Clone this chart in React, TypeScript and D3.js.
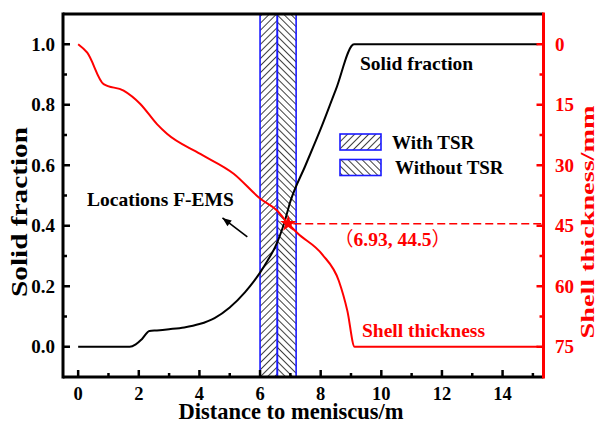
import React from 'react';
import * as d3 from 'd3';

// solid fraction vs distance (left axis)
const SF_X = [0, 1.7, 1.9, 2.1, 2.35, 2.6, 3.0, 3.5, 4.0, 4.5, 5.0, 5.5, 5.8, 6.0, 6.25, 6.5, 6.8, 7.0, 7.5, 8.0, 8.5, 9.1, 15.15];
const SF_Y = [0, 0, 0.008, 0.025, 0.052, 0.054, 0.058, 0.064, 0.075, 0.095, 0.13, 0.18, 0.217, 0.245, 0.285, 0.33, 0.41, 0.48, 0.6, 0.72, 0.85, 1.0, 1.0];

// shell thickness (mm) vs distance (right axis)
const SH_X = [0, 0.3, 0.84, 1.5, 2.05, 2.6, 2.93, 4.03, 5.13, 6.01, 6.56, 6.93, 7.23, 8.05, 8.6, 8.88, 9.12, 15.15];
const SH_Y = [0, 2.1, 9.9, 11.5, 14.8, 19.8, 22.2, 27.2, 32.1, 38.3, 41.2, 44.5, 46.8, 52.1, 58.7, 66.1, 75, 75];

// F-EMS location bands
const BAND_NAMES = ['With TSR', 'Without TSR'];
const BAND_START = [6.0, 6.57];
const BAND_END = [6.57, 7.19];

const MARK_X = 6.93;
const MARK_Y = 44.5;

const X_TICKS = [0, 2, 4, 6, 8, 10, 12, 14];
const X_MINOR = [1, 3, 5, 7, 9, 11, 13, 15];
const L_TICKS = [0, 0.2, 0.4, 0.6, 0.8, 1.0];
const L_MINOR = [0.1, 0.3, 0.5, 0.7, 0.9];
const R_TICKS = [0, 15, 30, 45, 60, 75];
const R_MINOR = [7.5, 22.5, 37.5, 52.5, 67.5];

const W = 597;
const H = 423;
const LEFT = 63, RIGHT = 543.5, TOP = 14, BOTTOM = 377;
const FONT = '"Liberation Serif", "Times New Roman", serif';
const RED = '#ff0000';

export default function App() {
  const x = d3.scaleLinear().domain([-0.5, 15.35]).range([LEFT, RIGHT]);
  const yL = d3.scaleLinear().domain([-0.1, 1.1]).range([BOTTOM, TOP]);
  const yR = d3.scaleLinear().domain([82.5, -7.5]).range([BOTTOM, TOP]);

  const sfLine = d3.line<number>()
    .x((d, i) => x(SF_X[i]))
    .y((d) => yL(d))
    .curve(d3.curveMonotoneX);
  const shLine = d3.line<number>()
    .x((d, i) => x(SH_X[i]))
    .y((d) => yR(d))
    .curve(d3.curveMonotoneX);

  const star = d3.symbol().type(d3.symbolStar).size(85)();

  // arrow for "Locations F-EMS" in data units
  const tail = [x(5.58), yL(0.363)];
  const head = [x(4.76), yL(0.426)];
  const ang = Math.atan2(head[1] - tail[1], head[0] - tail[0]) * 180 / Math.PI;

  const patterns = ['hatchFwd', 'hatchBack'];

  return (
    <svg width={W} height={H} style={{ position: 'absolute', left: 0, top: 0, background: '#fff' }}
      fontFamily={FONT} fontWeight="bold">
      <defs>
        <pattern id="hatchFwd" width={5} height={5} patternUnits="userSpaceOnUse" patternTransform="rotate(45)">
          <line x1={0} y1={0} x2={0} y2={5} stroke="#000" strokeWidth={1.5} />
        </pattern>
        <pattern id="hatchBack" width={5} height={5} patternUnits="userSpaceOnUse" patternTransform="rotate(-45)">
          <line x1={0} y1={0} x2={0} y2={5} stroke="#000" strokeWidth={1.5} />
        </pattern>
      </defs>
      <rect x={0} y={0} width={W} height={H} fill="#fff" />

      {/* bands */}
      {BAND_NAMES.map((n, i) => (
        <rect key={n} x={x(BAND_START[i])} y={TOP} width={x(BAND_END[i]) - x(BAND_START[i])} height={BOTTOM - TOP}
          fill={`url(#${patterns[i]})`} stroke="#1a1aff" strokeWidth={1.6} />
      ))}

      {/* curves */}
      <path d={sfLine(SF_Y) || ''} fill="none" stroke="#000" strokeWidth={2} />
      <path d={shLine(SH_Y) || ''} fill="none" stroke={RED} strokeWidth={2} />

      {/* marker + dashed guide */}
      <line x1={x(MARK_X) + 5} x2={RIGHT} y1={yR(MARK_Y)} y2={yR(MARK_Y)} stroke={RED} strokeWidth={1.5} strokeDasharray="8 4" />
      <path d={star || ''} transform={`translate(${x(MARK_X)},${yR(MARK_Y)})`} fill={RED} />

      {/* arrow */}
      <line x1={tail[0]} y1={tail[1]} x2={head[0]} y2={head[1]} stroke="#000" strokeWidth={1.6} />
      <path d="M0,0 L-9,-3.5 L-9,3.5 Z" transform={`translate(${head[0]},${head[1]}) rotate(${ang})`} fill="#000" />

      {/* annotations */}
      <text x={87} y={206} fontSize={19.5}>Locations F-EMS</text>
      <text x={360} y={70} fontSize={19.5}>Solid fraction</text>
      <text x={362} y={337} fontSize={19.5} fill={RED}>Shell thickness</text>
      <text x={334} y={246} fontSize={19.5} fill={RED}>
        <tspan fontFamily='"Noto Sans CJK SC"' fontWeight="normal">（</tspan>6.93, 44.5<tspan fontFamily='"Noto Sans CJK SC"' fontWeight="normal">）</tspan>
      </text>

      {/* legend */}
      {BAND_NAMES.map((n, i) => (
        <g key={n} transform={`translate(340,${134 + i * 25.5})`}>
          <rect x={0} y={0} width={41} height={16} fill={`url(#${patterns[i]})`} stroke="#1a1aff" strokeWidth={1.6} />
          <text x={52 + i * 3} y={14.5} fontSize={19}>{n}</text>
        </g>
      ))}

      {/* axes lines */}
      <line x1={LEFT} x2={RIGHT} y1={TOP} y2={TOP} stroke="#000" strokeWidth={3} />
      <line x1={LEFT} x2={RIGHT} y1={BOTTOM} y2={BOTTOM} stroke="#000" strokeWidth={3} />
      <line x1={LEFT} x2={LEFT} y1={TOP - 1.5} y2={BOTTOM + 1.5} stroke="#000" strokeWidth={3} />
      <line x1={RIGHT} x2={RIGHT} y1={TOP - 1.5} y2={BOTTOM + 1.5} stroke={RED} strokeWidth={3} />

      {/* bottom ticks */}
      {X_TICKS.map((t) => (
        <g key={'x' + t}>
          <line x1={x(t)} x2={x(t)} y1={BOTTOM} y2={BOTTOM - 7} stroke="#000" strokeWidth={2.5} />
          <text x={x(t)} y={399.5} fontSize={18.5} textAnchor="middle">{t}</text>
        </g>
      ))}
      {X_MINOR.map((t) => (
        <line key={'xm' + t} x1={x(t)} x2={x(t)} y1={BOTTOM} y2={BOTTOM - 4} stroke="#000" strokeWidth={2.5} />
      ))}

      {/* left ticks */}
      {L_TICKS.map((t) => (
        <g key={'l' + t}>
          <line x1={LEFT} x2={LEFT + 7} y1={yL(t)} y2={yL(t)} stroke="#000" strokeWidth={2.5} />
          <text x={55} y={yL(t)} dy="0.35em" fontSize={19} textAnchor="end">{t.toFixed(1)}</text>
        </g>
      ))}
      {L_MINOR.map((t) => (
        <line key={'lm' + t} x1={LEFT} x2={LEFT + 4} y1={yL(t)} y2={yL(t)} stroke="#000" strokeWidth={2.5} />
      ))}

      {/* right ticks */}
      {R_TICKS.map((t) => (
        <g key={'r' + t}>
          <line x1={RIGHT} x2={RIGHT - 7} y1={yR(t)} y2={yR(t)} stroke={RED} strokeWidth={2.5} />
          <text x={555} y={yR(t)} dy="0.35em" fontSize={19} fill={RED}>{t}</text>
        </g>
      ))}
      {R_MINOR.map((t) => (
        <line key={'rm' + t} x1={RIGHT} x2={RIGHT - 4} y1={yR(t)} y2={yR(t)} stroke={RED} strokeWidth={2.5} />
      ))}

      {/* axis titles */}
      <text x={291} y={418.5} fontSize={22.5} textAnchor="middle">Distance to meniscus/m</text>
      <text transform="translate(27,212) rotate(-90)" fontSize={23} textAnchor="middle"
        textLength={170} lengthAdjust="spacingAndGlyphs">Solid fraction</text>
      <text transform="translate(594,222) rotate(-90)" fontSize={18.5} textAnchor="middle" fill={RED}
        textLength={233} lengthAdjust="spacingAndGlyphs">Shell thickness/mm</text>
    </svg>
  );
}
